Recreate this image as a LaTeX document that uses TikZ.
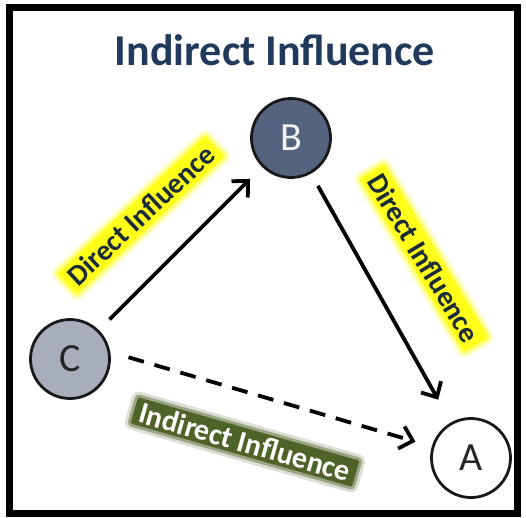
\documentclass[tikz,border=0pt]{standalone}
\usepackage{fontspec}
\setmainfont{Carlito}
\usetikzlibrary{arrows.meta}
\definecolor{titleblue}{HTML}{213A5C}
\definecolor{slate}{HTML}{55647E}
\definecolor{mist}{HTML}{A7ADBA}
\definecolor{olive}{HTML}{4F6228}
\definecolor{inkdark}{HTML}{1C2B38}
\definecolor{hilite}{HTML}{FFFF1A}

\begin{document}
\begin{tikzpicture}[x=1pt,y=-1pt,
  vertex/.style={circle,draw=black!90,line width=2.8pt,minimum size=79pt,
    inner sep=0pt,font=\fontsize{40}{40}\selectfont},
  link/.style={line width=3.8pt,-{Straight Barb[length=12pt,width=23pt]}},
  hl/.style={fill=hilite,text=inkdark,font=\bfseries\fontsize{29}{29}\selectfont,
    inner xsep=6pt,inner ysep=4pt,rounded corners=2pt,
    preaction={draw=hilite,line width=12pt,opacity=0.22},
    preaction={draw=hilite,line width=6pt,opacity=0.45}},
  greenbox/.style={fill=olive,text=white,font=\bfseries\fontsize{30}{30}\selectfont,
    inner xsep=6pt,inner ysep=3pt,rounded corners=2pt,
    preaction={draw=olive,line width=12pt,opacity=0.2},
    preaction={draw=olive,line width=6pt,opacity=0.45}},
]
\useasboundingbox (0,0) rectangle (526,517);
\fill[white] (0,0) rectangle (526,517);

% outer frame
\draw[line width=7pt] (9,7) rectangle (517,513.5);

% heading
\node[font=\bfseries\fontsize{44}{44}\selectfont,text=titleblue,anchor=base]
  (title) at (275,65) {Indirect Influence};

% the three parties
\node[vertex,fill=slate,text=white!92!slate] (B) at (291,138) {B};
\node[vertex,fill=mist,text=black!85] (C) at (70,359) {C};
\node[vertex,fill=white,text=black!85] (A) at (471,458) {A};

% influence arrows
\draw[link,shorten <=15pt,shorten >=17pt] (C) -- (B);
\draw[link,shorten <=14pt,shorten >=26pt] (B) -- (A);
\draw[link,dash pattern=on 16pt off 11pt,shorten <=19pt,shorten >=17pt] (C.10) -- (A);

% labels
\node[hl,rotate=43] (dl1) at (141,215) {Direct Influence};
\node[hl,rotate=-59] (dl2) at (424,258) {Direct Influence};
\node[greenbox,rotate=-16] (il) at (245,442) {Indirect Influence};
\end{tikzpicture}
\end{document}
